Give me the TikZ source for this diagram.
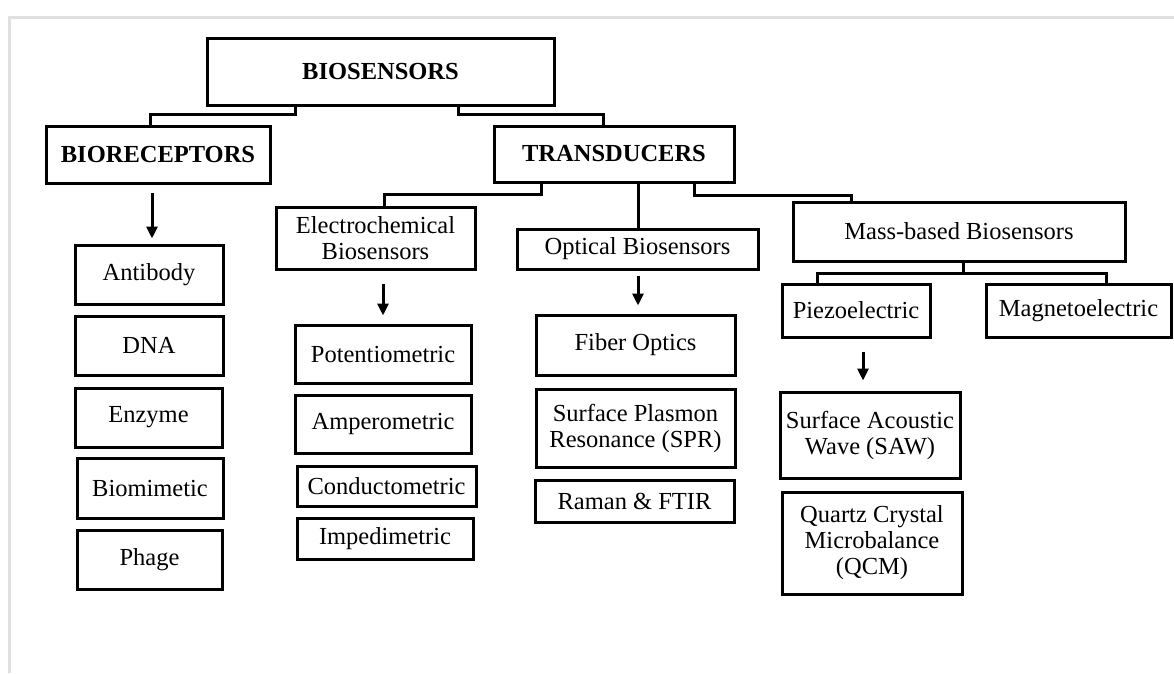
\documentclass[tikz,border=0pt]{standalone}
\usepackage{fontspec}
\setmainfont{Liberation Serif}
\usetikzlibrary{arrows.meta}
\begin{document}
\begin{tikzpicture}[x=1pt,y=-1pt,
  box/.style={draw=black, line width=3pt, inner sep=0pt, align=center,
    font=\fontsize{24.5}{26}\selectfont},
  bbox/.style={box, font=\fontsize{24.5}{26}\selectfont\bfseries},
  link/.style={draw=black, line width=3pt},
  arr/.style={link, -{Triangle[length=12pt,width=11pt]}},
  frame/.style={draw=black!12, line width=3pt}]
\fill[white] (0,0) rectangle (1174,673);
\useasboundingbox (0,0) rectangle (1174,673);
\coordinate (fa) at (9,673);
\coordinate (fb) at (9,17);
\coordinate (fc) at (1174,17);
\draw[frame] (fa) -- (fb) -- (fc);

\node[bbox, minimum width=347pt, minimum height=67pt] (bios) at (380.5,71.5) {BIOSENSORS};
\node[bbox, minimum width=224pt, minimum height=57pt] (biorec) at (158,154.5) {BIORECEPTORS};
\node[bbox, minimum width=240pt, minimum height=56pt] (trans) at (614,154) {TRANSDUCERS};

\node[box, minimum width=148pt, minimum height=59pt] (antibody) at (149,274.5) {Antibody};
\node[box, minimum width=148pt, minimum height=59pt] (dna) at (149,345.5) {DNA};
\node[box, minimum width=147pt, minimum height=59pt] (enzyme) at (148.5,417.5) {Enzyme};
\node[box, minimum width=146pt, minimum height=60pt] (biomim) at (150,488) {Biomimetic};
\node[box, minimum width=145pt, minimum height=59pt] (phage) at (149.5,559.5) {Phage};

\node[box, minimum width=199pt, minimum height=62pt] (electro) at (375.5,238) {Electrochemical\\Biosensors};
\node[box, minimum width=241pt, minimum height=40pt] (optical) at (637.5,249) {Optical Biosensors};
\node[box, minimum width=332pt, minimum height=59pt] (mass) at (959,231.5) {Mass-based Biosensors};

\node[box, minimum width=176pt, minimum height=58pt] (potentio) at (383,354) {Potentiometric};
\node[box, minimum width=176pt, minimum height=58pt] (ampero) at (383,424) {Amperometric};
\node[box, minimum width=179pt, minimum height=40pt] (conduct) at (386.5,486) {Conductometric};
\node[box, minimum width=176pt, minimum height=41pt] (imped) at (385,538.5) {Impedimetric};

\node[box, minimum width=199pt, minimum height=60pt] (fiber) at (635.5,345) {Fiber Optics};
\node[box, minimum width=199pt, minimum height=78pt] (spr) at (635.5,428) {Surface Plasmon\\Resonance (SPR)};
\node[box, minimum width=199pt, minimum height=42pt] (raman) at (634.5,501) {Raman \& FTIR};

\node[box, minimum width=148pt, minimum height=53pt] (piezo) at (856,310.5) {Piezoelectric};
\node[box, minimum width=185pt, minimum height=53pt] (magneto) at (1078.5,310.5) {Magnetoelectric};
\node[box, minimum width=180pt, minimum height=86pt] (saw) at (870,435) {Surface Acoustic\\Wave (SAW)};
\node[box, minimum width=180pt, minimum height=102pt] (qcm) at (872,543) {Quartz Crystal\\Microbalance\\(QCM)};

% elbow connectors
\draw[link] ([xshift=-85.5pt]bios.south) -- ++(0,8) -| ([xshift=-8pt]biorec.north);
\draw[link] ([xshift=77.5pt]bios.south) -- ++(0,8) -| ([xshift=-10.5pt]trans.north);
\draw[link] ([xshift=-73pt]trans.south) -- ++(0,11) -| ([xshift=8.5pt]electro.north);
\draw[link] ([xshift=24pt]trans.south) -- ([xshift=24pt]trans.south |- optical.north);
\draw[link] ([xshift=80pt]trans.south) -- ++(0,12) -| ([xshift=-108pt]mass.north);
\draw[link] ([xshift=4pt]mass.south) -- ++(0,11) coordinate (mfork);
\draw[link] (mfork) -| ([xshift=-39pt]piezo.north);
\draw[link] (mfork) -| ([xshift=27.5pt]magneto.north);

% arrows
\draw[arr] ([xshift=-6pt,yshift=-8pt]biorec.south) -- ([xshift=3pt,yshift=5pt]antibody.north);
\draw[arr] ([xshift=7.5pt,yshift=-13pt]electro.south) -- ([xshift=0pt,yshift=8pt]potentio.north);
\draw[arr] ([xshift=0.5pt,yshift=-5pt]optical.south) -- ([xshift=2.5pt,yshift=8pt]fiber.north);
\draw[arr] ([xshift=7pt,yshift=-13pt]piezo.south) -- ([xshift=-7pt,yshift=10pt]saw.north);
\end{tikzpicture}
\end{document}
